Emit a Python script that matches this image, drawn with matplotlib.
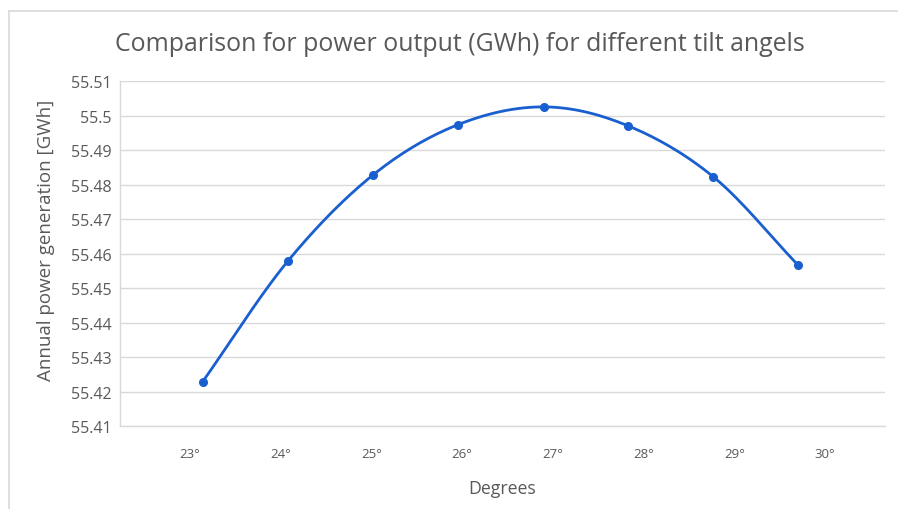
import numpy as np
import matplotlib
matplotlib.use('Agg')
import matplotlib.pyplot as plt
from matplotlib.lines import Line2D

# tilt angle (deg) and annual generation (GWh)
tilt = [23.14, 24.08, 25.02, 25.95, 26.90, 27.83, 28.77, 29.70]
power = [55.4228, 55.4578, 55.4828, 55.4973, 55.5025, 55.4970, 55.4822, 55.4567]
xticks = [23, 24, 25, 26, 27, 28, 29, 30]
xlabels = ['23°', '24°', '25°', '26°', '27°', '28°', '29°', '30°']
yticks = [55.41, 55.42, 55.43, 55.44, 55.45, 55.46, 55.47, 55.48, 55.49, 55.5, 55.51]


def smooth(x, y, n=30):
    # catmull-rom style smoothing like the spreadsheet "smoothed line"
    x = np.asarray(x); y = np.asarray(y)
    px = np.concatenate([[2*x[0]-x[1]], x, [2*x[-1]-x[-2]]])
    py = np.concatenate([[2*y[0]-y[1]], y, [2*y[-1]-y[-2]]])
    xs, ys = [], []
    t = np.linspace(0, 1, n)
    for i in range(1, len(px)-2):
        for p, out in ((px, xs), (py, ys)):
            p0, p1, p2, p3 = p[i-1], p[i], p[i+1], p[i+2]
            b1 = p1 + (p2-p0)/6
            b2 = p2 - (p3-p1)/6
            out.extend((1-t)**3*p1 + 3*(1-t)**2*t*b1 + 3*(1-t)*t**2*b2 + t**3*p2)
    return xs, ys


plt.rcParams['font.family'] = ['Open Sans', 'DejaVu Sans']
grey = '#595959'
blue = '#1a5fcf'

fig = plt.figure(figsize=(8.98, 5.10), dpi=100)
ax = fig.add_axes([0.1336, 0.1627, 0.8519, 0.6765])

sx, sy = smooth(tilt, power)
ax.plot(sx, sy, color=blue, lw=2, solid_capstyle='round', zorder=3)
ax.plot(tilt, power, 'o', color=blue, ms=5.5, zorder=4)

ax.set_xlim(22.23, 30.66)
ax.set_ylim(55.41, 55.51)
ax.set_xticks(xticks)
ax.set_xticklabels(xlabels)
ax.set_yticks(yticks)
ax.set_yticklabels(['%g' % v for v in yticks])
ax.tick_params(length=0, colors=grey)
ax.tick_params(axis='x', pad=15, labelsize=9.5)
ax.tick_params(axis='y', pad=6, labelsize=11.5)
ax.grid(axis='y', color='#d9d9d9', lw=1)
ax.set_axisbelow(True)
for s in ['top', 'right']:
    ax.spines[s].set_visible(False)
for s in ['left', 'bottom']:
    ax.spines[s].set_color('#d9d9d9')
    ax.spines[s].set_linewidth(1)

ax.set_xlabel('Degrees', color=grey, fontsize=12.8, labelpad=14)
ax.set_ylabel('Annual power generation [GWh]', color=grey, fontsize=13.5)
ax.yaxis.set_label_coords(-0.085, 0.54)
fig.text(0.512, 0.913, 'Comparison for power output (GWh) for different tilt angels',
         ha='center', va='center', color=grey, fontsize=17.9)

# thin frame at left and top of the chart area
fig.add_artist(Line2D([0.0105, 0.0105], [0, 0.977], color='#d9d9d9', lw=1.2))
fig.add_artist(Line2D([0.0105, 1], [0.977, 0.977], color='#d9d9d9', lw=1.2))

fig.savefig('out.png', dpi=100)
